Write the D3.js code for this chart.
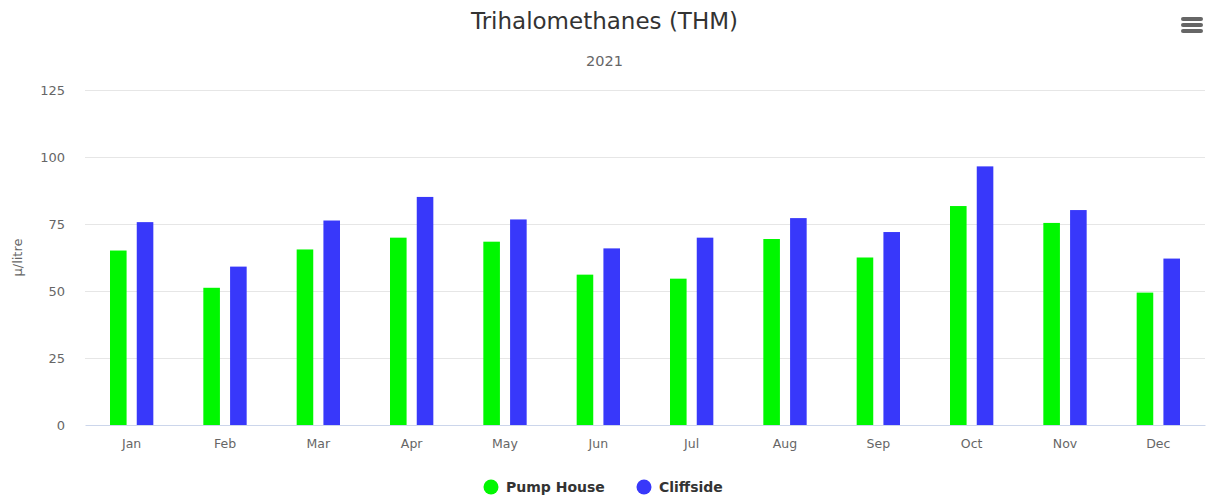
<!DOCTYPE html>
<html>
<head>
<meta charset="utf-8">
<script src="https://cdn.jsdelivr.net/npm/d3@7"></script>
<style>
  body { margin: 0; background: #fff; }
  svg { display: block; font-family: "DejaVu Sans", Verdana, sans-serif; }
</style>
</head>
<body>
<div id="chart"></div>
<script>
// chart data
var months = ["Jan", "Feb", "Mar", "Apr", "May", "Jun", "Jul", "Aug", "Sep", "Oct", "Nov", "Dec"];
var seriesNames = ["Pump House", "Cliffside"];
var pumpHouse = [65.1, 51.2, 65.5, 69.9, 68.4, 56.1, 54.6, 69.4, 62.5, 81.7, 75.4, 49.4];
var cliffside = [75.7, 59.1, 76.3, 85.1, 76.7, 65.9, 69.9, 77.2, 72.0, 96.5, 80.2, 62.1];
var yTicks = [0, 25, 50, 75, 100, 125];
var colors = ["#00f700", "#3838fa"];

var W = 1209, H = 498;
var margin = {top: 90, right: 4, bottom: 73, left: 85};
var width = W - margin.left - margin.right;
var height = H - margin.top - margin.bottom;

var svg = d3.select("#chart").append("svg")
    .attr("width", W)
    .attr("height", H);

// title + subtitle
svg.append("text")
    .attr("x", W / 2).attr("y", 29)
    .attr("text-anchor", "middle")
    .attr("fill", "#333")
    .style("font-size", "23px")
    .text("Trihalomethanes (THM)");

svg.append("text")
    .attr("x", W / 2).attr("y", 66)
    .attr("text-anchor", "middle")
    .attr("fill", "#666")
    .style("font-size", "14.5px")
    .text("2021");

// menu icon
var menu = svg.append("g").attr("transform", "translate(1181,17)");
[0, 6, 12].forEach(function(d) {
    menu.append("rect")
        .attr("x", 0).attr("y", d)
        .attr("width", 22).attr("height", 4)
        .attr("rx", 2)
        .attr("fill", "#666");
});

var g = svg.append("g")
    .attr("transform", "translate(" + margin.left + "," + margin.top + ")");

var y = d3.scaleLinear().domain([0, 125]).range([height, 0]);
var x0 = d3.scaleBand().domain(months).range([0, width]).padding(0);
var groupPad = 25;
var x1 = d3.scaleBand().domain(seriesNames)
    .range([groupPad, x0.bandwidth() - groupPad])
    .paddingInner(0.38).paddingOuter(0);

// gridlines
g.append("g").selectAll("line")
    .data(yTicks.filter(function(d) { return d > 0; }))
    .join("line")
    .attr("x1", 0).attr("x2", width)
    .attr("y1", function(d) { return Math.round(y(d)) + 0.5; })
    .attr("y2", function(d) { return Math.round(y(d)) + 0.5; })
    .attr("stroke", "#e6e6e6");

// y axis
var yAxis = g.append("g")
    .call(d3.axisLeft(y).tickValues(yTicks).tickSize(0).tickPadding(20));
yAxis.select(".domain").remove();
yAxis.selectAll("text")
    .attr("fill", "#666")
    .style("font-size", "13px")
    .style("font-family", "DejaVu Sans, sans-serif");

svg.append("text")
    .attr("transform", "translate(22," + (margin.top + height / 2) + ") rotate(-90)")
    .attr("text-anchor", "middle")
    .attr("fill", "#666")
    .style("font-size", "13px")
    .text("µ/litre");

// bars
var series = [pumpHouse, cliffside];
seriesNames.forEach(function(name, si) {
    g.append("g").selectAll("rect")
        .data(series[si])
        .join("rect")
        .attr("x", function(d, i) { return x0(months[i]) + x1(name); })
        .attr("y", function(d) { return y(d); })
        .attr("width", x1.bandwidth())
        .attr("height", function(d) { return y(0) - y(d); })
        .attr("fill", colors[si]);
});

// x axis
var xAxis = g.append("g")
    .attr("transform", "translate(0," + height + ")")
    .call(d3.axisBottom(x0).tickSize(0).tickPadding(14));
xAxis.select(".domain").attr("stroke", "#ccd6eb");
xAxis.selectAll("text")
    .attr("fill", "#666")
    .style("font-size", "12.5px")
    .style("font-family", "DejaVu Sans, sans-serif");

// legend
var legendX = [491, 644];
var legend = svg.append("g");
seriesNames.forEach(function(name, i) {
    legend.append("circle")
        .attr("cx", legendX[i]).attr("cy", 487)
        .attr("r", 7.5)
        .attr("fill", colors[i]);
    legend.append("text")
        .attr("x", legendX[i] + 15).attr("y", 492)
        .attr("fill", "#333")
        .style("font-size", "14px")
        .style("font-weight", "bold")
        .text(name);
});
</script>
</body>
</html>
